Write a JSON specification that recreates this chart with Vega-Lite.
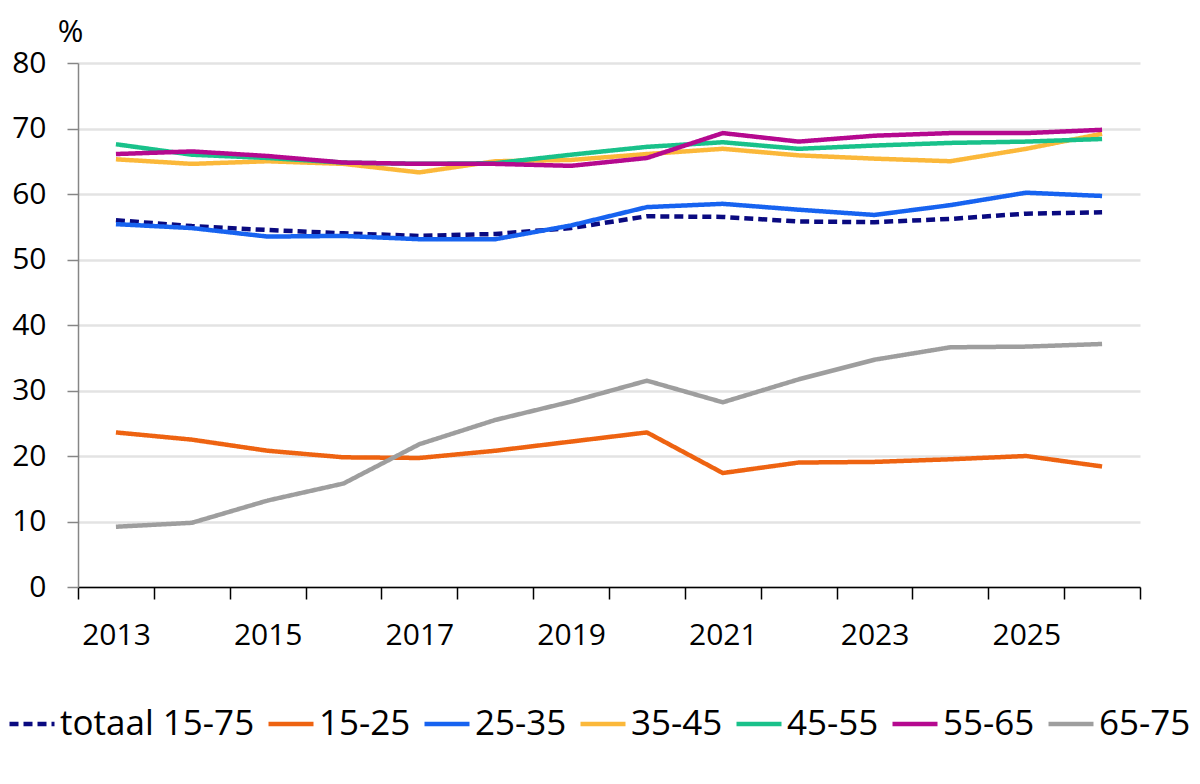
{
  "$schema": "https://vega.github.io/schema/vega-lite/v6.json",
  "autosize": {"type": "none"},
  "padding": {"left": 78, "top": 63, "right": 60, "bottom": 197},
  "width": 1062,
  "height": 524,
  "background": "white",
  "data": {
    "values": [
      {"jaar": 2013, "groep": "totaal 15-75", "waarde": 56.0},
      {"jaar": 2014, "groep": "totaal 15-75", "waarde": 55.1},
      {"jaar": 2015, "groep": "totaal 15-75", "waarde": 54.5},
      {"jaar": 2016, "groep": "totaal 15-75", "waarde": 54.0},
      {"jaar": 2017, "groep": "totaal 15-75", "waarde": 53.6},
      {"jaar": 2018, "groep": "totaal 15-75", "waarde": 53.9},
      {"jaar": 2019, "groep": "totaal 15-75", "waarde": 54.8},
      {"jaar": 2020, "groep": "totaal 15-75", "waarde": 56.6},
      {"jaar": 2021, "groep": "totaal 15-75", "waarde": 56.5},
      {"jaar": 2022, "groep": "totaal 15-75", "waarde": 55.8},
      {"jaar": 2023, "groep": "totaal 15-75", "waarde": 55.7},
      {"jaar": 2024, "groep": "totaal 15-75", "waarde": 56.2},
      {"jaar": 2025, "groep": "totaal 15-75", "waarde": 57.0},
      {"jaar": 2026, "groep": "totaal 15-75", "waarde": 57.2},
      {"jaar": 2013, "groep": "15-25", "waarde": 23.6},
      {"jaar": 2014, "groep": "15-25", "waarde": 22.5},
      {"jaar": 2015, "groep": "15-25", "waarde": 20.8},
      {"jaar": 2016, "groep": "15-25", "waarde": 19.8},
      {"jaar": 2017, "groep": "15-25", "waarde": 19.7},
      {"jaar": 2018, "groep": "15-25", "waarde": 20.8},
      {"jaar": 2019, "groep": "15-25", "waarde": 22.2},
      {"jaar": 2020, "groep": "15-25", "waarde": 23.6},
      {"jaar": 2021, "groep": "15-25", "waarde": 17.4},
      {"jaar": 2022, "groep": "15-25", "waarde": 19.0},
      {"jaar": 2023, "groep": "15-25", "waarde": 19.1},
      {"jaar": 2024, "groep": "15-25", "waarde": 19.5},
      {"jaar": 2025, "groep": "15-25", "waarde": 20.0},
      {"jaar": 2026, "groep": "15-25", "waarde": 18.4},
      {"jaar": 2013, "groep": "25-35", "waarde": 55.4},
      {"jaar": 2014, "groep": "25-35", "waarde": 54.8},
      {"jaar": 2015, "groep": "25-35", "waarde": 53.5},
      {"jaar": 2016, "groep": "25-35", "waarde": 53.6},
      {"jaar": 2017, "groep": "25-35", "waarde": 53.1},
      {"jaar": 2018, "groep": "25-35", "waarde": 53.1},
      {"jaar": 2019, "groep": "25-35", "waarde": 55.2},
      {"jaar": 2020, "groep": "25-35", "waarde": 58.0},
      {"jaar": 2021, "groep": "25-35", "waarde": 58.5},
      {"jaar": 2022, "groep": "25-35", "waarde": 57.6},
      {"jaar": 2023, "groep": "25-35", "waarde": 56.8},
      {"jaar": 2024, "groep": "25-35", "waarde": 58.3},
      {"jaar": 2025, "groep": "25-35", "waarde": 60.2},
      {"jaar": 2026, "groep": "25-35", "waarde": 59.7},
      {"jaar": 2013, "groep": "35-45", "waarde": 65.3},
      {"jaar": 2014, "groep": "35-45", "waarde": 64.6},
      {"jaar": 2015, "groep": "35-45", "waarde": 65.0},
      {"jaar": 2016, "groep": "35-45", "waarde": 64.6},
      {"jaar": 2017, "groep": "35-45", "waarde": 63.3},
      {"jaar": 2018, "groep": "35-45", "waarde": 65.0},
      {"jaar": 2019, "groep": "35-45", "waarde": 65.2},
      {"jaar": 2020, "groep": "35-45", "waarde": 66.1},
      {"jaar": 2021, "groep": "35-45", "waarde": 66.9},
      {"jaar": 2022, "groep": "35-45", "waarde": 65.9},
      {"jaar": 2023, "groep": "35-45", "waarde": 65.4},
      {"jaar": 2024, "groep": "35-45", "waarde": 65.0},
      {"jaar": 2025, "groep": "35-45", "waarde": 66.9},
      {"jaar": 2026, "groep": "35-45", "waarde": 69.2},
      {"jaar": 2013, "groep": "45-55", "waarde": 67.6},
      {"jaar": 2014, "groep": "45-55", "waarde": 66.0},
      {"jaar": 2015, "groep": "45-55", "waarde": 65.5},
      {"jaar": 2016, "groep": "45-55", "waarde": 64.8},
      {"jaar": 2017, "groep": "45-55", "waarde": 64.6},
      {"jaar": 2018, "groep": "45-55", "waarde": 64.7},
      {"jaar": 2019, "groep": "45-55", "waarde": 66.0},
      {"jaar": 2020, "groep": "45-55", "waarde": 67.2},
      {"jaar": 2021, "groep": "45-55", "waarde": 67.9},
      {"jaar": 2022, "groep": "45-55", "waarde": 66.9},
      {"jaar": 2023, "groep": "45-55", "waarde": 67.4},
      {"jaar": 2024, "groep": "45-55", "waarde": 67.8},
      {"jaar": 2025, "groep": "45-55", "waarde": 68.0},
      {"jaar": 2026, "groep": "45-55", "waarde": 68.4},
      {"jaar": 2013, "groep": "55-65", "waarde": 66.1},
      {"jaar": 2014, "groep": "55-65", "waarde": 66.5},
      {"jaar": 2015, "groep": "55-65", "waarde": 65.8},
      {"jaar": 2016, "groep": "55-65", "waarde": 64.8},
      {"jaar": 2017, "groep": "55-65", "waarde": 64.6},
      {"jaar": 2018, "groep": "55-65", "waarde": 64.6},
      {"jaar": 2019, "groep": "55-65", "waarde": 64.3},
      {"jaar": 2020, "groep": "55-65", "waarde": 65.5},
      {"jaar": 2021, "groep": "55-65", "waarde": 69.3},
      {"jaar": 2022, "groep": "55-65", "waarde": 68.0},
      {"jaar": 2023, "groep": "55-65", "waarde": 68.9},
      {"jaar": 2024, "groep": "55-65", "waarde": 69.3},
      {"jaar": 2025, "groep": "55-65", "waarde": 69.3},
      {"jaar": 2026, "groep": "55-65", "waarde": 69.8},
      {"jaar": 2013, "groep": "65-75", "waarde": 9.2},
      {"jaar": 2014, "groep": "65-75", "waarde": 9.8},
      {"jaar": 2015, "groep": "65-75", "waarde": 13.2},
      {"jaar": 2016, "groep": "65-75", "waarde": 15.8},
      {"jaar": 2017, "groep": "65-75", "waarde": 21.8},
      {"jaar": 2018, "groep": "65-75", "waarde": 25.5},
      {"jaar": 2019, "groep": "65-75", "waarde": 28.3},
      {"jaar": 2020, "groep": "65-75", "waarde": 31.5},
      {"jaar": 2021, "groep": "65-75", "waarde": 28.2},
      {"jaar": 2022, "groep": "65-75", "waarde": 31.7},
      {"jaar": 2023, "groep": "65-75", "waarde": 34.7},
      {"jaar": 2024, "groep": "65-75", "waarde": 36.6},
      {"jaar": 2025, "groep": "65-75", "waarde": 36.7},
      {"jaar": 2026, "groep": "65-75", "waarde": 37.1}
    ]
  },
  "mark": {"type": "line", "strokeWidth": 4.5, "strokeCap": "butt", "strokeJoin": "round"},
  "encoding": {
    "x": {
      "field": "jaar",
      "type": "quantitative",
      "scale": {"domain": [2012.5, 2026.5], "nice": false, "zero": false},
      "axis": {
        "title": null,
        "values": [2012.5, 2013.5, 2014.5, 2015.5, 2016.5, 2017.5, 2018.5, 2019.5, 2020.5, 2021.5, 2022.5, 2023.5, 2024.5, 2025.5, 2026.5],
        "labelExpr": "(datum.value - 2012.5) % 2 == 0 && datum.value < 2026 ? format(datum.value + 0.5, 'd') : ''",
        "labelOffset": 38,
        "labelFlush": false,
        "labelOverlap": false,
        "labelBound": false,
        "labelPadding": 21,
        "labelFontSize": 30,
        "labelColor": "#000000",
        "domainColor": "#000000",
        "domainWidth": 1.5,
        "tickColor": "#000000",
        "tickWidth": 1.5,
        "tickSize": 12,
        "grid": false
      }
    },
    "y": {
      "field": "waarde",
      "type": "quantitative",
      "scale": {"domain": [0, 80], "nice": false},
      "axis": {
        "title": "%",
        "titleAngle": 0,
        "titleX": -8,
        "titleY": -31,
        "titleAlign": "center",
        "titleBaseline": "middle",
        "titleFontSize": 31,
        "titleFontWeight": "normal",
        "titleColor": "#000000",
        "values": [0, 10, 20, 30, 40, 50, 60, 70, 80],
        "labelFontSize": 30,
        "labelColor": "#000000",
        "labelPadding": 21,
        "domainColor": "#868686",
        "domainWidth": 1.5,
        "tickColor": "#868686",
        "tickWidth": 1.5,
        "tickSize": 11,
        "grid": true,
        "gridColor": "#e3e3e3",
        "gridWidth": 2.5
      }
    },
    "color": {
      "field": "groep",
      "type": "nominal",
      "scale": {
        "domain": ["totaal 15-75", "15-25", "25-35", "35-45", "45-55", "55-65", "65-75"],
        "range": ["#0a0a80", "#ee6311", "#1763f0", "#fbb83a", "#19c18a", "#b5098f", "#9e9e9e"]
      },
      "legend": {
        "title": null,
        "orient": "none",
        "direction": "horizontal",
        "legendX": -71,
        "legendY": 636,
        "symbolType": "stroke",
        "symbolSize": 2025,
        "symbolStrokeWidth": 4.5,
        "labelFontSize": 35,
        "labelColor": "#000000",
        "labelOffset": 3,
        "columnPadding": 4,
        "labelLimit": 400
      }
    },
    "strokeDash": {
      "field": "groep",
      "type": "nominal",
      "scale": {
        "domain": ["totaal 15-75", "15-25", "25-35", "35-45", "45-55", "55-65", "65-75"],
        "range": [[9, 5], [1, 0], [1, 0], [1, 0], [1, 0], [1, 0], [1, 0]]
      },
      "legend": null
    }
  },
  "config": {
    "font": "Open Sans",
    "view": {"stroke": null}
  }
}
